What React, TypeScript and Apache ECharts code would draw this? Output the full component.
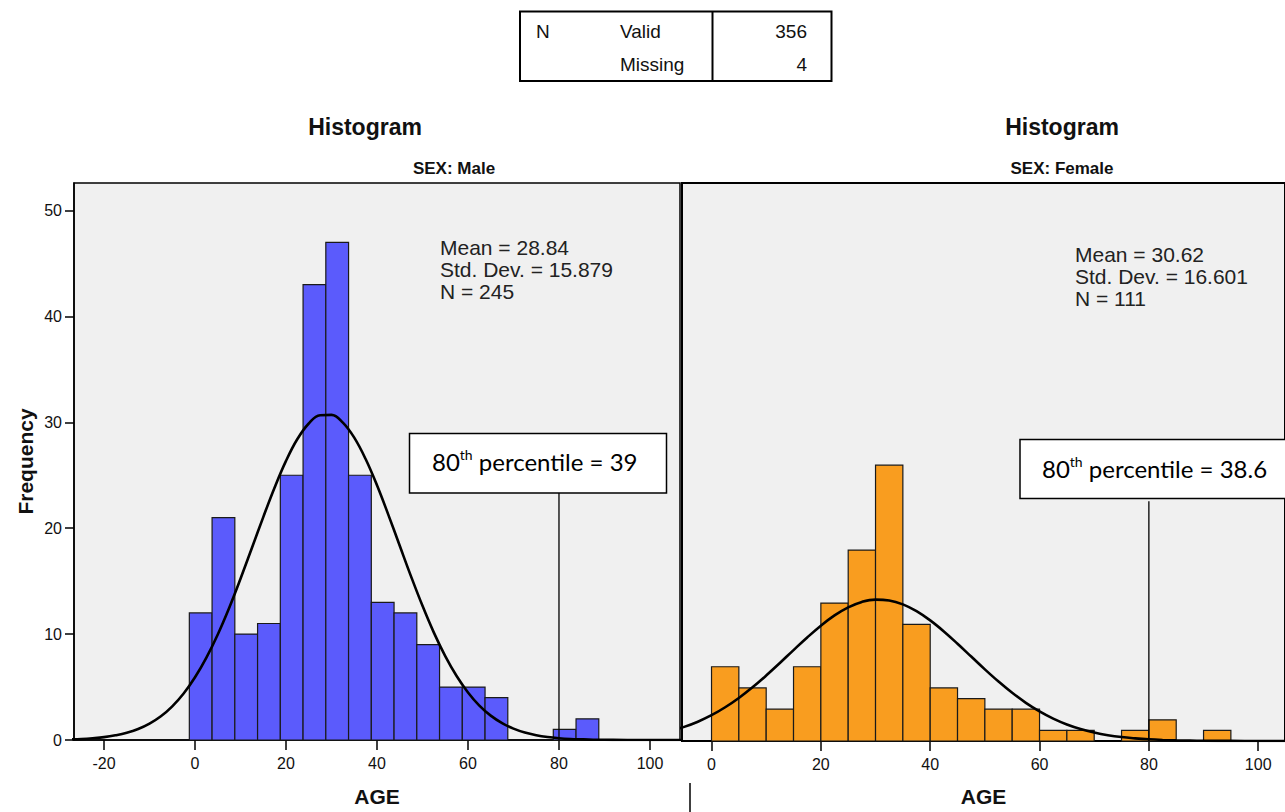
import React, { useEffect, useRef } from "react";
import * as echarts from "echarts";

// ---- data ----
const ageTicks = [-20, 0, 20, 40, 60, 80, 100];
const rightAgeTicks = [0, 20, 40, 60, 80, 100];
const freqTicks = [0, 10, 20, 30, 40, 50];

const binWidth = 5;
const maleBinStart = [-1.25, 3.75, 8.75, 13.75, 18.75, 23.75, 28.75, 33.75, 38.75, 43.75, 48.75, 53.75, 58.75, 63.75, 68.75, 73.75, 78.75, 83.75];
const maleCounts = [12, 21, 10, 11, 25, 43, 47, 25, 13, 12, 9, 5, 5, 4, 0, 0, 1, 2];

const femaleBinStart = [0, 5, 10, 15, 20, 25, 30, 35, 40, 45, 50, 55, 60, 65, 70, 75, 80, 85, 90];
const femaleCounts = [7, 5, 3, 7, 13, 18, 26, 11, 5, 4, 3, 3, 1, 1, 0, 1, 2, 0, 1];

// fitted normal curves, read along the age axis
const curveAges = [
  -30, -27.5, -25, -22.5, -20, -17.5, -15, -12.5, -10, -7.5, -5, -2.5, 0, 2.5, 5, 7.5, 10, 12.5, 15, 17.5,
  20, 22.5, 25, 27.5, 30, 32.5, 35, 37.5, 40, 42.5, 45, 47.5, 50, 52.5, 55, 57.5, 60, 62.5, 65, 67.5,
  70, 72.5, 75, 77.5, 80, 82.5, 85, 87.5, 90, 95, 100, 105, 110,
];
const maleCurve = [
  0.03, 0.06, 0.1, 0.17, 0.27, 0.44, 0.68, 1.04, 1.55, 2.24, 3.18, 4.39, 5.92, 7.78, 9.97, 12.47, 15.23, 18.13, 21.05, 23.85,
  26.36, 28.42, 29.89, 30.67, 30.7, 29.97, 28.55, 26.53, 24.05, 21.26, 18.34, 15.43, 12.67, 10.14, 7.92, 6.04, 4.49, 3.25, 2.3, 1.59,
  1.07, 0.7, 0.45, 0.28, 0.17, 0.1, 0.06, 0.03, 0.02, 0.0, 0.0, 0.0, 0.0,
];
const femaleCurve = [
  0.02, 0.03, 0.04, 0.08, 0.11, 0.2, 0.28, 0.46, 0.67, 0.96, 1.33, 1.82, 2.43, 3.18, 4.06, 5.06, 6.17, 7.35, 8.57, 9.76,
  10.87, 11.84, 12.6, 13.11, 13.33, 13.25, 12.88, 12.24, 11.37, 10.33, 9.17, 7.96, 6.75, 5.6, 4.54, 3.6, 2.79, 2.11, 1.56, 1.13,
  0.8, 0.55, 0.37, 0.25, 0.16, 0.1, 0.06, 0.04, 0.02, 0.01, 0.0, 0.0, 0.0,
];

const percentileAge = 80;
const malePercentileTop = 23.5;
const femalePercentileTop = 22.6;

const maleStats = ["Mean = 28.84", "Std. Dev. = 15.879", "N = 245"];
const femaleStats = ["Mean = 30.62", "Std. Dev. = 16.601", "N = 111"];

const SANS = "'Liberation Sans', Arial, sans-serif";
const BLUE = "#5B5BFC";
const ORANGE = "#F99D1F";

function barSeries(starts: number[], counts: number[], idx: number, color: string) {
  return {
    type: "custom",
    xAxisIndex: idx,
    yAxisIndex: idx,
    data: starts.map((s, i) => [s, counts[i]]),
    encode: { x: 0, y: 1 },
    z: 2,
    renderItem: (params: any, api: any) => {
      const start = api.value(0);
      const count = api.value(1);
      if (!count) return null;
      const p0 = api.coord([start, count]);
      const p1 = api.coord([start + binWidth, 0]);
      return {
        type: "rect",
        shape: { x: p0[0], y: p0[1], width: p1[0] - p0[0], height: p1[1] - p0[1] },
        style: { fill: color, stroke: "#1a1a1a", lineWidth: 1.2 },
      };
    },
  };
}

function curveSeries(values: number[], idx: number) {
  return {
    type: "line",
    xAxisIndex: idx,
    yAxisIndex: idx,
    data: curveAges.map((a, i) => [a, values[i]]),
    smooth: 0.4,
    symbol: "none",
    clip: true,
    z: 3,
    lineStyle: { color: "#000", width: 2.6 },
  };
}

function pctSeries(top: number, idx: number) {
  return {
    type: "line",
    xAxisIndex: idx,
    yAxisIndex: idx,
    data: [[percentileAge, 0], [percentileAge, top]],
    symbol: "none",
    z: 4,
    lineStyle: { color: "#000", width: 1.3 },
  };
}

function txt(x: number, y: number, text: string, size: number, opts: any = {}) {
  return {
    type: "text",
    x,
    y,
    z: 100,
    style: {
      text,
      fontSize: size,
      fontFamily: opts.family || SANS,
      fontWeight: opts.bold ? "bold" : "normal",
      fill: opts.color || "#111",
      align: opts.align || "left",
      verticalAlign: "middle",
    },
  };
}

function pctBox(x: number, y: number, w: number, h: number, tx: number, ty: number, value: string) {
  return [
    {
      type: "rect",
      z: 100,
      shape: { x, y, width: w, height: h },
      style: { fill: "#fff", stroke: "#000", lineWidth: 1.5 },
    },
    {
      type: "text",
      x: tx,
      y: ty,
      z: 101,
      style: {
        text: "{a|80}{b|th}{a| percentile = " + value + "}",
        align: "left",
        verticalAlign: "middle",
        rich: {
          a: { fontSize: 24, fontFamily: "Lato, 'Open Sans', sans-serif", fill: "#000", lineHeight: 28 },
          b: { fontSize: 14, fontFamily: "Lato, 'Open Sans', sans-serif", fill: "#000", verticalAlign: "top", lineHeight: 28 },
        },
      },
    },
  ];
}

export default function App() {
  const ref = useRef<HTMLDivElement>(null);

  useEffect(() => {
    if (!ref.current) return;
    const chart = echarts.init(ref.current, undefined, { renderer: "svg" });

    const axisLabelStyle = { fontSize: 16, color: "#111", fontFamily: SANS };
    const blackLine = { color: "#000", width: 1.5 };

    const option: any = {
      animation: false,
      backgroundColor: "#fff",
      grid: [
        { left: 74, top: 183, width: 606, height: 561, show: true, backgroundColor: "#F0F0F0", borderColor: "#000", borderWidth: 1.5 },
        { left: 682, top: 183, width: 610, height: 562, show: true, backgroundColor: "#F0F0F0", borderColor: "#000", borderWidth: 2 },
      ],
      xAxis: [
        {
          type: "value",
          gridIndex: 0,
          min: -26.6,
          max: 106.6,
          splitLine: { show: false },
          axisLine: { show: true, onZero: false, lineStyle: blackLine },
          axisTick: { show: true, customValues: ageTicks, length: 10, lineStyle: blackLine },
          axisLabel: { customValues: ageTicks, margin: 15, ...axisLabelStyle },
          name: "AGE",
          nameLocation: "middle",
          nameGap: 46,
          nameTextStyle: { fontSize: 21, fontWeight: "bold", color: "#111", fontFamily: SANS },
        },
        {
          type: "value",
          gridIndex: 1,
          min: -5.4,
          max: 104.9,
          splitLine: { show: false },
          axisLine: { show: true, onZero: false, lineStyle: blackLine },
          axisTick: { show: true, customValues: rightAgeTicks, length: 10, lineStyle: blackLine },
          axisLabel: { customValues: rightAgeTicks, margin: 15, ...axisLabelStyle },
          name: "AGE",
          nameLocation: "middle",
          nameGap: 45,
          nameTextStyle: { fontSize: 21, fontWeight: "bold", color: "#111", fontFamily: SANS },
        },
      ],
      yAxis: [
        {
          type: "value",
          gridIndex: 0,
          min: 0,
          max: 52.6,
          splitLine: { show: false },
          axisLine: { show: true, onZero: false, lineStyle: blackLine },
          axisTick: { show: true, customValues: freqTicks, length: 9, lineStyle: blackLine },
          axisLabel: { customValues: freqTicks, margin: 12, ...axisLabelStyle },
          name: "Frequency",
          nameLocation: "middle",
          nameGap: 38,
          nameRotate: 90,
          nameTextStyle: { fontSize: 21, fontWeight: "bold", color: "#111", fontFamily: SANS },
        },
        {
          type: "value",
          gridIndex: 1,
          min: 0,
          max: 52.6,
          splitLine: { show: false },
          axisLine: { show: true, onZero: false, lineStyle: { color: "#000", width: 2 } },
          axisTick: { show: false },
          axisLabel: { show: false },
        },
      ],
      series: [
        barSeries(maleBinStart, maleCounts, 0, BLUE),
        curveSeries(maleCurve, 0),
        pctSeries(malePercentileTop, 0),
        barSeries(femaleBinStart, femaleCounts, 1, ORANGE),
        curveSeries(femaleCurve, 1),
        pctSeries(femalePercentileTop, 1),
      ],
      graphic: [
        // statistics table
        { type: "rect", z: 100, shape: { x: 520, y: 11.5, width: 311.5, height: 69.5 }, style: { fill: "#fff", stroke: "#000", lineWidth: 2 } },
        { type: "line", z: 101, shape: { x1: 712.5, y1: 11.5, x2: 712.5, y2: 81 }, style: { stroke: "#000", lineWidth: 2 } },
        txt(536, 31, "N", 19),
        txt(620, 31, "Valid", 19),
        txt(620, 64, "Missing", 19),
        txt(807, 31, "356", 19, { align: "right" }),
        txt(807, 64, "4", 19, { align: "right" }),
        // titles
        txt(365, 127, "Histogram", 23, { bold: true, align: "center" }),
        txt(454, 168, "SEX: Male", 17, { bold: true, align: "center" }),
        txt(1062, 127, "Histogram", 23, { bold: true, align: "center" }),
        txt(1062, 168, "SEX: Female", 17, { bold: true, align: "center" }),
        // stats
        txt(440, 247, maleStats[0], 21, { color: "#222" }),
        txt(440, 269, maleStats[1], 21, { color: "#222" }),
        txt(440, 291, maleStats[2], 21, { color: "#222" }),
        txt(1075, 254, femaleStats[0], 21, { color: "#222" }),
        txt(1075, 276, femaleStats[1], 21, { color: "#222" }),
        txt(1075, 298, femaleStats[2], 21, { color: "#222" }),
        // percentile boxes
        ...pctBox(409.5, 433.5, 257, 59.5, 432, 461, "39"),
        ...pctBox(1020, 439.5, 280, 59, 1042, 468, "38.6"),
        // separator
        { type: "line", z: 100, shape: { x1: 690, y1: 783, x2: 690, y2: 812 }, style: { stroke: "#000", lineWidth: 1.5 } },
      ],
    };

    chart.setOption(option);
    return () => chart.dispose();
  }, []);

  return (
    <div
      ref={ref}
      style={{ position: "fixed", left: 0, top: 0, width: 1285, height: 812, background: "#fff" }}
    />
  );
}
